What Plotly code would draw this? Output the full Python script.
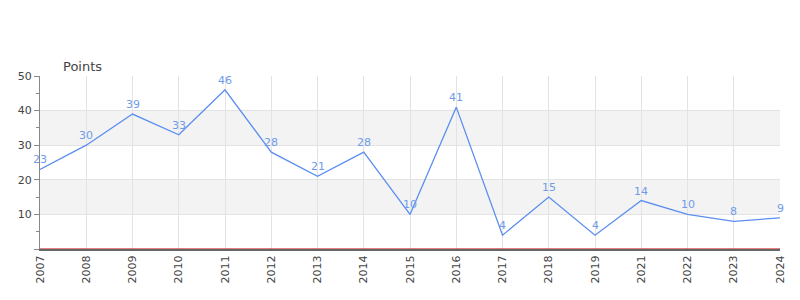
import plotly.graph_objects as go

years = ["2007", "2008", "2009", "2010", "2011", "2012", "2013", "2014", "2015",
         "2016", "2017", "2018", "2019", "2021", "2022", "2023", "2024"]
points = [23, 30, 39, 33, 46, 28, 21, 28, 10, 41, 4, 15, 4, 14, 10, 8, 9]
bands = [(10, 20), (30, 40)]

fig = go.Figure()
fig.add_trace(go.Scatter(
    x=years, y=points, mode="lines",
    line=dict(color="#5b8ef0", width=1.3),
    cliponaxis=False, hoverinfo="x+y",
))
for lo, hi in bands:
    fig.add_shape(type="rect", xref="paper", yref="y", x0=0, x1=1, y0=lo, y1=hi,
                  fillcolor="#f3f3f3", line=dict(width=0), layer="below")
fig.add_shape(type="line", xref="paper", yref="y", x0=0, x1=1, y0=0, y1=0,
              line=dict(color="#cc0000", width=1), layer="above")

# category axis: annotation x is the category index
labels = [dict(x=i, y=v, xref="x", yref="y", text=str(v), showarrow=False,
               yanchor="bottom", yshift=1,
               font=dict(family="DejaVu Sans", size=11, color="#6f9be8"))
          for i, v in enumerate(points)]

fig.update_layout(
    width=800, height=300,
    margin=dict(l=40, r=20, t=76, b=51),
    plot_bgcolor="white", paper_bgcolor="white",
    showlegend=False,
    font=dict(family="DejaVu Sans", size=11, color="#444"),
    xaxis=dict(type="category", range=[0, len(years) - 1], tickangle=-90,
               showgrid=True, gridcolor="#e3e3e3", gridwidth=1,
               showline=True, linecolor="#666", linewidth=2,
               ticks="outside", ticklen=0, zeroline=False,
               tickfont=dict(size=11, color="#444")),
    yaxis=dict(range=[0, 50], tickvals=[0, 10, 20, 30, 40, 50],
               ticktext=["", "10", "20", "30", "40", "50"],
               showgrid=True, gridcolor="#e3e3e3",
               showline=True, linecolor="#888", linewidth=1,
               ticks="outside", ticklen=5, tickcolor="#888",
               minor=dict(tickvals=[5, 15, 25, 35, 45], ticks="outside", ticklen=3,
                          tickcolor="#888", showgrid=False),
               zeroline=False, tickfont=dict(size=11, color="#444")),
    annotations=labels + [dict(text="Points", xref="paper", yref="paper", x=0.028, y=1.0,
                      xanchor="left", yanchor="bottom", showarrow=False, yshift=0,
                      font=dict(size=13, color="#444"))],
)
fig.write_html("out.html")
